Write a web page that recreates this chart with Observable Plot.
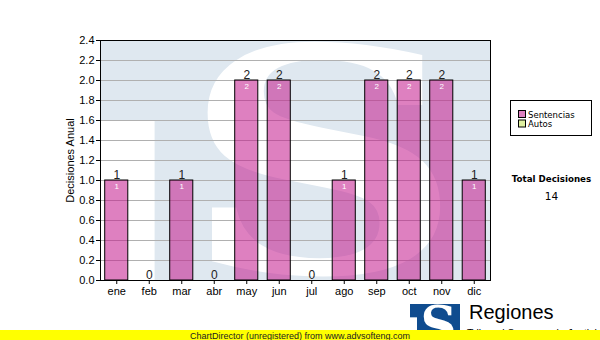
<!DOCTYPE html>
<html><head><meta charset="utf-8">
<script src="https://cdn.jsdelivr.net/npm/d3@7"></script>
<script src="https://cdn.jsdelivr.net/npm/@observablehq/plot@0.6"></script>
<style>
html,body{margin:0;padding:0;background:#fff;}
#chart{position:relative;width:600px;height:340px;overflow:hidden;}
#chart svg{position:absolute;left:0;top:0;}
</style></head><body><div id="chart"></div>
<script>
// ---- data ----
const months = ["ene","feb","mar","abr","may","jun","jul","ago","sep","oct","nov","dic"];
const sentencias = [1,0,1,0,2,2,0,1,2,2,2,1];
const autos = [0,0,0,0,0,0,0,0,0,0,0,0];
const yTicks = [0,0.2,0.4,0.6,0.8,1.0,1.2,1.4,1.6,1.8,2.0,2.2,2.4];
const yLabel = "Decisiones Anual";
const legendNames = ["Sentencias","Autos"];
const legendColors = ["#dd80c0","#dff0a0"];
const totalTitle = "Total Decisiones";
const brandName = "Regiones";
const brandSub = "Tribunal Supremo de Justicia";
const footerText = "ChartDirector (unregistered) from www.advsofteng.com";

const data = months.map((m, i) => ({mes: m, sentencias: sentencias[i], autos: autos[i], valor: sentencias[i] + autos[i]}));
const total = d3.sum(data, d => d.valor);

const W = 600, H = 340, ML = 100, MR = 110, MT = 40, MB = 60;
const SANS = "'Liberation Sans', Arial, sans-serif";

const svg = Plot.plot({
  width: W, height: H,
  marginLeft: ML, marginRight: MR, marginTop: MT, marginBottom: MB,
  style: {fontFamily: SANS, fontSize: "11px", color: "black", background: "transparent", overflow: "visible"},
  x: {domain: months, paddingInner: 0.29, paddingOuter: 0.145, round: false, label: null},
  y: {domain: [0, 2.4], label: yLabel},
  marks: [
    Plot.gridY(yTicks, {stroke: "#b0b0b0", strokeOpacity: 1}),
    Plot.barY(data, {x: "mes", y: "sentencias", fill: "#c41d8f", fillOpacity: 0.56, stroke: "black", strokeWidth: 1}),
    Plot.frame({stroke: "black"}),
    Plot.text(data, {x: "mes", y: "valor", text: d => String(d.valor), lineAnchor: "bottom", dy: -2, fontSize: 12, fill: "#222"}),
    Plot.text(data.filter(d => d.sentencias > 0), {x: "mes", y: "sentencias", text: d => String(d.sentencias), lineAnchor: "top", dy: 3, fontSize: 8, fill: "white"}),
    Plot.axisY(yTicks, {tickFormat: d => d.toFixed(1), tickSize: 4, tickPadding: 2, label: yLabel, labelAnchor: "center", labelArrow: "none", labelOffset: 34, fontSize: 11}),
    Plot.axisX({tickSize: 4, tickPadding: 3, fontSize: 11, label: null})
  ]
});

// ---- decorative logo helpers ----
function fitGlyph(g, ch, font, X0, Y0, w, h, fill) {
  const ctx = document.createElement("canvas").getContext("2d");
  ctx.font = `bold 100px ${font}`;
  ctx.textAlign = "left";
  const m = ctx.measureText(ch);
  const gw = m.actualBoundingBoxLeft + m.actualBoundingBoxRight;
  const gh = m.actualBoundingBoxAscent + m.actualBoundingBoxDescent;
  const sx = w / gw, sy = h / gh;
  g.append("text")
    .attr("transform", `translate(${X0 + m.actualBoundingBoxLeft * sx},${Y0 + m.actualBoundingBoxAscent * sy}) scale(${sx},${sy})`)
    .attr("text-anchor", "start")
    .attr("font-family", font).attr("font-weight", "bold").attr("font-size", 100)
    .attr("fill", fill).text(ch);
}
function drawLogo(g, x, y, w, h, bg, fg) {
  g.append("rect").attr("x", x).attr("y", y).attr("width", w).attr("height", h).attr("fill", bg);
  g.append("rect").attr("x", x).attr("y", y + h / 3).attr("width", w * 0.14).attr("height", h * 2 / 3).attr("fill", fg);
  fitGlyph(g, "S", "'DejaVu Serif'", x + 0.27 * w, y + 0.01 * h, 0.61 * w, 0.97 * h, fg);
}

// watermark behind the marks
const wm = d3.create("svg:g").attr("aria-label", "watermark");
drawLogo(wm, ML, MT, W - ML - MR, H - MT - MB, "#dfe8f0", "#ffffff");
const styleEl = svg.querySelector("style");
svg.insertBefore(wm.node(), styleEl ? styleEl.nextSibling : svg.firstChild);

document.getElementById("chart").appendChild(svg);

// ---- overlay: legend, totals, brand, footer ----
const ov = d3.select("#chart").append("svg").attr("width", W).attr("height", H);
const LEG = "'DejaVu Sans', Verdana, sans-serif";
ov.append("rect").attr("x", 510.5).attr("y", 100.5).attr("width", 81).attr("height", 35).attr("fill", "white").attr("stroke", "black");
legendNames.forEach((n, i) => {
  ov.append("rect").attr("x", 518.5).attr("y", 110.5 + i * 9.5).attr("width", 7).attr("height", 7).attr("fill", legendColors[i]).attr("stroke", "black");
  ov.append("text").attr("x", 528).attr("y", 117.5 + i * 9.5).attr("font-family", LEG).attr("font-size", 8.5).attr("fill", "black").text(n);
});
ov.append("text").attr("x", 551.5).attr("y", 181.5).attr("text-anchor", "middle").attr("font-family", LEG).attr("font-weight", "bold").attr("font-size", 8.7).text(totalTitle);
ov.append("text").attr("x", 551.5).attr("y", 200).attr("text-anchor", "middle").attr("font-family", LEG).attr("font-size", 10.5).text(String(total));

const logoG = ov.append("g");
drawLogo(logoG, 410, 304, 50, 40, "#0f4c8f", "#ffffff");
ov.append("text").attr("x", 469).attr("y", 318.5).attr("font-family", SANS).attr("font-size", 20).attr("fill", "black").text(brandName);
ov.append("text").attr("x", 467).attr("y", 337).attr("font-family", SANS).attr("font-size", 10.5).attr("fill", "black").text(brandSub);

ov.append("rect").attr("x", 0).attr("y", 330).attr("width", W).attr("height", 10).attr("fill", "#ffff00");
ov.append("text").attr("x", 190).attr("y", 338.5).attr("font-family", SANS).attr("font-size", 9).attr("fill", "#222").text(footerText);
</script></body></html>
